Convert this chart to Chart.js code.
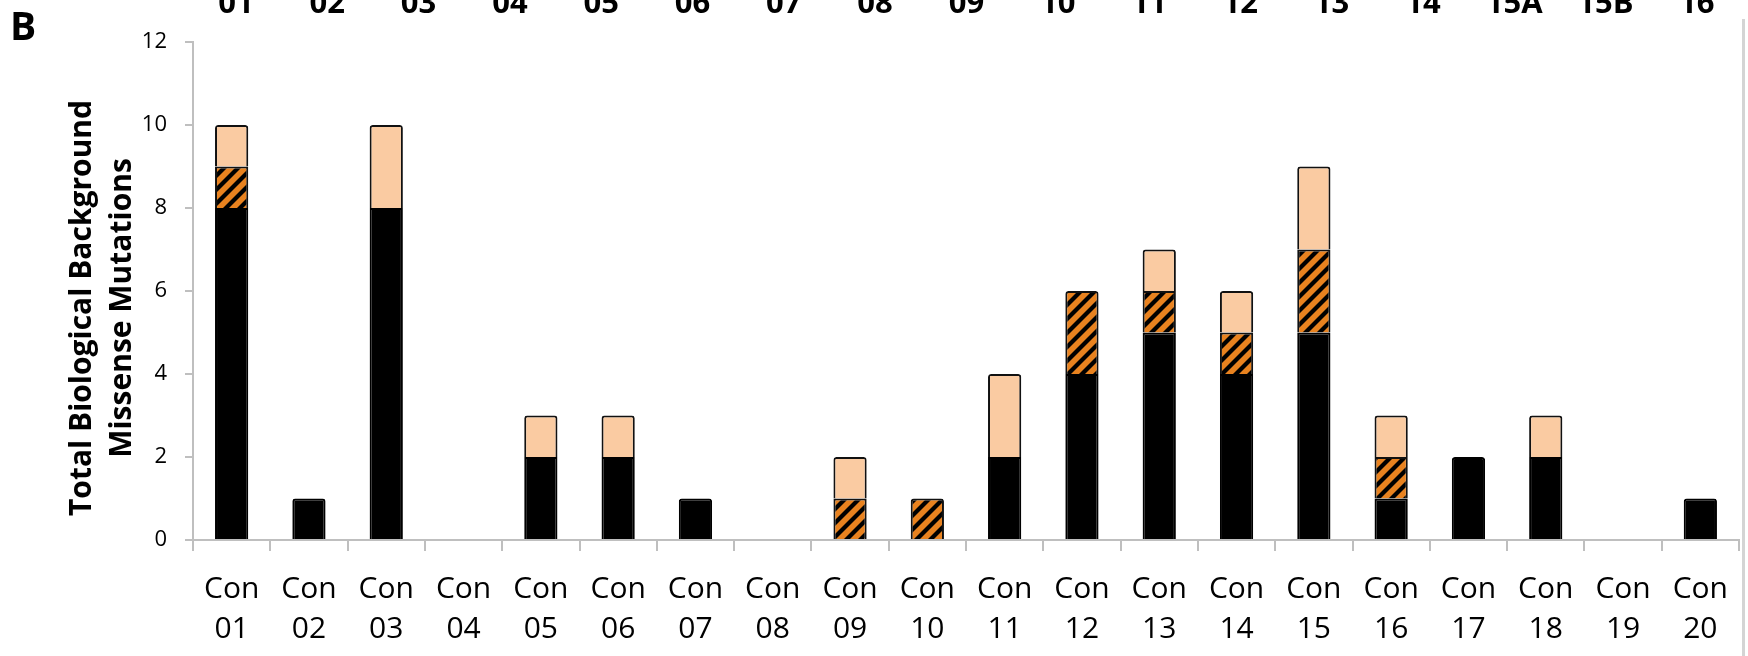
<!DOCTYPE html>
<html>
<head>
<meta charset="utf-8">
<script src="https://cdn.jsdelivr.net/npm/chart.js@4.4.1/dist/chart.umd.min.js"></script>
<style>
  html, body { margin: 0; padding: 0; background: #fff; }
  canvas { display: block; }
</style>
</head>
<body>
<canvas id="chart" width="1748" height="656"></canvas>
<script>
// Control samples Con 01 .. Con 20
const sampleIds = ['01','02','03','04','05','06','07','08','09','10',
                   '11','12','13','14','15','16','17','18','19','20'];

// Missense mutation counts per sample, stacked bottom to top
const solidCounts   = [8, 1, 8, 0, 2, 2, 1, 0, 0, 0, 2, 4, 5, 4, 5, 1, 2, 2, 0, 1];
const hatchedCounts = [1, 0, 0, 0, 0, 0, 0, 0, 1, 1, 0, 2, 1, 1, 2, 1, 0, 0, 0, 0];
const lightCounts   = [1, 0, 2, 0, 1, 1, 0, 0, 1, 0, 2, 0, 1, 1, 2, 1, 0, 1, 0, 0];

// Y axis
const yMin = 0, yMax = 12, yStep = 2;
const yTitleLines = ['Total Biological Background', 'Missense Mutations'];

// Panel letter and the sample row of the panel above
const panelLetter = 'B';
const upperRowLabels = ['01','02','03','04','05','06','07','08','09','10',
                        '11','12','13','14','15A','15B','16'];

// Orange fill with black diagonal stripes
function stripePattern() {
  const size = 14;
  const c = document.createElement('canvas');
  c.width = size; c.height = size;
  const g = c.getContext('2d');
  g.fillStyle = '#E8821F';
  g.fillRect(0, 0, size, size);
  g.strokeStyle = '#000';
  g.lineWidth = 4.2;
  g.lineCap = 'square';
  for (const k of [-size, 0, size]) {
    g.beginPath();
    g.moveTo(k, size);
    g.lineTo(k + size, 0);
    g.stroke();
  }
  return g.createPattern(c, 'repeat');
}

const axisGrey = '#BFBFBF';
const FONT = '"Open Sans", "Liberation Sans", sans-serif';

// Draws the panel letter, the cut-off label row above, the rotated axis title and the frame edge
const panelDecor = {
  id: 'panelDecor',
  afterDraw(chart) {
    const ctx = chart.ctx;
    const area = chart.chartArea;
    ctx.save();
    ctx.fillStyle = '#000';

    ctx.font = 'bold 39px ' + FONT;
    ctx.textAlign = 'left';
    ctx.textBaseline = 'alphabetic';
    ctx.fillText(panelLetter, 10, 40);

    ctx.font = 'bold 31px ' + FONT;
    ctx.textAlign = 'center';
    upperRowLabels.forEach((t, i) => ctx.fillText(t, 236 + i * 91.3, 13));

    ctx.font = 'bold 30px ' + FONT;
    ctx.textBaseline = 'middle';
    const cy = (area.top + area.bottom) / 2 + 17;
    yTitleLines.forEach((t, i) => {
      ctx.save();
      ctx.translate(82 + i * 40, cy);
      ctx.rotate(-Math.PI / 2);
      ctx.fillText(t, 0, 0);
      ctx.restore();
    });

    ctx.strokeStyle = '#D4D4D4';
    ctx.lineWidth = 3;
    ctx.beginPath();
    ctx.moveTo(1743.5, 19);
    ctx.lineTo(1743.5, chart.height);
    ctx.stroke();
    ctx.restore();
  }
};

const nz = arr => arr.map(v => (v === 0 ? null : v));

const barCommon = {
  borderColor: '#111111',
  borderWidth: 2,
  borderRadius: 3,
  barPercentage: 0.43,
  categoryPercentage: 1.0
};

new Chart(document.getElementById('chart'), {
  type: 'bar',
  data: {
    labels: sampleIds.map(id => ['Con', id]),
    datasets: [
      Object.assign({ label: 'solid', data: nz(solidCounts), backgroundColor: '#000000' }, barCommon, { borderColor: '#000000' }),
      Object.assign({ label: 'hatched', data: nz(hatchedCounts), backgroundColor: stripePattern() }, barCommon),
      Object.assign({ label: 'light', data: nz(lightCounts), backgroundColor: '#FACBA2' }, barCommon)
    ]
  },
  options: {
    responsive: false,
    devicePixelRatio: 1,
    animation: false,
    layout: { padding: { top: 42, right: 9, left: 0, bottom: 0 } },
    plugins: { legend: { display: false }, tooltip: { enabled: false } },
    scales: {
      x: {
        stacked: true,
        offset: true,
        grid: { offset: true, drawOnChartArea: false, tickLength: 11, color: axisGrey, lineWidth: 2 },
        border: { color: axisGrey, width: 2 },
        ticks: {
          autoSkip: false, maxRotation: 0, minRotation: 0,
          color: '#000', padding: 19,
          font: { family: FONT, size: 30, lineHeight: 1.33 }
        },
        afterFit(scale) { scale.height = 116; }
      },
      y: {
        stacked: true,
        min: yMin, max: yMax,
        grid: { drawOnChartArea: false, tickLength: 8, color: axisGrey, lineWidth: 2 },
        border: { color: axisGrey, width: 2 },
        ticks: {
          stepSize: yStep, color: '#000', padding: 18,
          font: { family: FONT, size: 22 }
        },
        afterFit(scale) { scale.width = 193; }
      }
    }
  },
  plugins: [panelDecor]
});
</script>
</body>
</html>
